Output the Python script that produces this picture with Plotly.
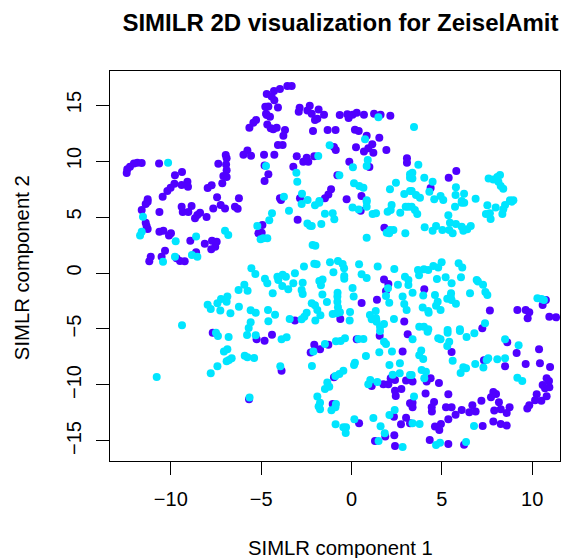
import plotly.graph_objects as go

purple_x = [-12.44,-12.41,-12.26,-12.04,-11.85,-11.61,-10.65,-9.38,-9.77,-9.08,-9.05,-9.40,-9.80,-10.01,-10.19,-10.45,-11.28,-7.96,-7.74,-7.15,-7.44,-6.23,-7.37,-6.96,-6.91,-6.94,-6.91,-7.09,-6.91,-5.98,-5.76,-5.56,-5.65,-5.43,-5.28,
-3.55,-3.31,-3.96,-4.29,-4.69,-4.42,-4.27,-4.60,-4.77,-4.07,-4.73,-4.51,-4.69,-4.66,-4.47,-4.14,-4.33,-3.68,-3.77,-4.07,-3.81,-4.84,-4.27,-2.87,-2.92,-2.31,-2.44,-2.20,-1.82,-1.52,-1.89,-2.02,-0.65,-0.23,-0.16,0.06,0.29,0.69,1.25,1.61,2.15,-2.13,-1.32,-0.88,0.19,0.40,0.84,1.54,1.15,0.25,0.93,0.69,1.21,1.93,-0.87,-0.97,-3.03,-2.48,-2.67,-2.39,-2.06,-0.12,0.99,3.07,3.07,-3.22,-4.60,-4.81,-0.78,-1.13,-1.28,-1.47,-0.27,0.55,-2.85,-3.96,-4.81,
5.80,5.38,4.38,
-11.28,-11.39,-11.61,-10.63,-9.40,-9.34,-9.03,-8.85,-8.66,-8.53,-8.38,-8.02,-7.65,-7.24,-7.00,-6.45,-6.30,-11.39,-11.34,-11.28,-10.63,-10.41,-9.99,-10.10,-8.92,-8.12,-7.72,-7.46,-7.54,-7.76,-10.32,-11.11,-11.19,-10.51,-9.68,-9.49,-9.23,-8.60,-5.15,
-2.98,-4.93,-4.97,-3.90,0.51,1.82,1.80,2.04,1.91,0.56,1.41,-0.62,-3.13,2.92,
4.03,7.66,10.76,10.58,9.18,9.64,9.84,9.75,10.95,11.32,7.24,
-7.68,-5.25,-5.67,
-4.40,-4.81,-2.06,-1.28,-1.74,-2.26,0.29,-3.87,-0.97,1.56,3.11,2.83,1.12,1.76,2.04,2.17,2.41,3.02,2.41,2.76,2.45,3.24,-1.04,0.42,2.35,3.02,2.74,3.24,2.37,1.87,1.30,2.41,
8.62,10.38,9.14,5.54,7.33,8.50,9.64,10.43,10.99,4.38,4.16,4.84,3.38,10.80,10.93,10.58,10.71,10.95,10.25,10.80,10.16,10.51,9.84,9.73,4.10,5.36,7.85,8.00,7.72,8.16,8.75,8.59,8.26,7.90,7.19,6.69,6.87,6.52,6.10,5.76,5.54,5.23,4.57,4.44,4.45,3.38,3.38,5.36,4.95,4.62,4.86,7.85,8.26,8.59,7.26,4.33,5.36,6.23]
purple_y = [8.93,9.26,9.49,9.79,9.85,9.82,9.79,9.02,8.72,8.16,7.71,7.86,7.98,7.62,7.32,6.82,6.58,7.59,7.83,8.01,6.76,6.67,9.76,10.54,10.24,9.70,9.17,8.66,8.57,10.57,10.95,10.48,12.98,13.42,13.66,
16.70,16.70,16.43,16.25,15.98,15.77,15.42,14.88,14.85,14.79,14.23,13.96,14.11,13.27,12.92,12.98,12.83,12.77,12.26,11.43,11.43,10.57,10.57,14.76,14.41,14.94,14.52,14.23,14.61,14.14,13.78,13.66,14.11,14.17,13.84,14.14,14.32,14.14,14.23,14.14,14.05,12.68,12.77,12.77,12.80,12.68,12.26,12.08,11.49,11.22,11.13,10.86,10.75,10.98,10.98,11.25,10.42,10.30,9.94,9.94,10.42,9.94,9.46,10.24,9.85,9.49,8.81,8.21,8.72,7.47,7.02,6.67,6.58,6.88,6.67,6.67,9.61,
9.11,8.51,7.59,
6.37,6.16,5.63,5.45,5.92,5.45,5.45,5.98,4.88,5.18,5.39,5.00,5.77,6.07,5.77,5.92,5.74,4.49,4.20,3.93,3.69,3.78,3.54,3.36,2.89,2.62,2.89,2.80,2.35,2.11,1.99,1.46,1.04,1.46,1.31,1.07,1.04,1.85,3.54,
4.76,4.29,3.60,6.52,5.57,4.05,-0.57,-0.98,-1.61,-2.68,-2.38,-4.11,-4.25,-4.34,
-1.46,-3.36,-2.41,-2.86,-3.30,-3.30,-3.51,-4.05,-3.90,-3.96,-4.94,
-5.33,-5.92,-11.28,
-5.51,-6.04,-6.40,-6.40,-6.82,-7.11,-5.92,-8.72,-9.32,-5.60,-5.48,-7.02,-10.09,-9.94,-9.94,-9.40,-9.55,-9.61,-10.51,-10.36,-10.98,-11.64,-11.70,-13.42,-12.83,-12.92,-13.51,-13.42,-14.49,-14.61,-15.00,-15.45,
-6.19,-6.82,-7.14,-7.05,-7.80,-8.33,-8.12,-8.07,-8.39,-9.40,-9.70,-9.82,-9.70,-9.40,-9.64,-10.00,-10.30,-10.21,-10.83,-11.01,-11.37,-11.40,-11.82,-12.11,-10.77,-10.83,-10.62,-10.80,-11.10,-11.55,-11.99,-12.50,-12.17,-12.29,-11.40,-11.82,-12.38,-12.44,-12.23,-12.65,-11.99,-11.99,-11.52,-11.99,-12.38,-11.58,-11.99,-13.07,-13.48,-13.72,-14.02,-13.27,-13.48,-13.63,-13.66,-14.91,-15.27,-15.33]

cyan_x = [-10.15,1.49,0.75,-1.21,-1.84,0.90,0.84,0.08,-4.73,-3.05,-3.00,-0.67,0.14,0.43,0.66,2.46,2.13,2.92,3.24,3.24,3.24,-2.74,-3.74,-2.43,-1.78,0.84,
3.46,3.70,3.37,3.37,4.03,4.49,4.31,3.33,3.57,3.79,4.58,4.93,5.08,5.78,5.76,6.23,6.87,6.10,7.59,7.85,8.07,8.22,8.13,8.26,8.40,8.77,8.96,
-11.54,-11.61,-11.70,-9.73,-8.60,-7.00,-6.82,-5.21,-9.77,-10.43,-8.83,-8.53,-5.54,-5.32,-5.93,-6.25,-5.75,-7.96,-7.79,-7.42,-7.22,-6.87,-6.91,-7.26,-6.70,-6.23,-5.58,-5.30,-5.58,-5.69,-9.38,
-4.40,-4.55,-3.46,-2.76,-2.02,-1.78,-1.47,-1.04,-0.95,-1.67,-2.44,-2.30,-2.20,-4.88,-4.66,-5.03,0.06,0.40,0.84,0.84,1.17,1.36,2.00,2.17,2.22,2.70,3.00,3.15,0.84,1.95,2.13,2.32,2.09,2.98,-2.15,-2.00,
-2.06,-1.93,-2.63,-3.13,-1.19,-0.75,-0.49,-0.41,-1.00,0.42,1.45,2.37,0.56,0.84,-0.40,-0.40,-4.79,-4.66,-4.10,-4.05,-3.81,-3.63,-3.83,-3.22,-2.70,-3.50,-4.36,-2.76,-2.70,-1.60,-1.78,-1.69,0.06,-1.61,-0.77,-0.78,-0.78,0.12,-1.36,-2.20,-2.02,-1.89,-4.62,-4.23,-4.60,-3.42,-2.76,-2.61,-2.48,-1.72,-2.00,-1.04,-0.82,-0.64,-0.75,-0.08,-0.10,1.34,1.02,1.12,1.36,1.39,1.80,1.58,2.35,3.05,2.09,2.92,2.83,1.91,2.02,2.57,2.96,3.15,3.15,
5.73,6.10,6.24,7.52,7.98,8.50,8.40,8.35,7.66,7.44,7.70,3.33,3.51,3.64,5.36,5.45,5.78,4.05,4.68,4.49,5.03,5.41,5.60,6.10,6.19,6.41,6.60,8.86,
4.99,4.80,4.53,4.25,4.01,3.68,3.74,5.93,6.13,4.73,5.21,5.54,6.06,6.93,7.00,7.28,7.41,7.52,6.56,3.38,3.97,4.62,4.77,4.68,4.93,5.51,5.49,5.30,5.54,5.78,3.94,4.25,4.27,7.39,3.75,4.01,4.25,5.32,6.00,10.29,10.52,10.65,
-7.50,-7.39,-6.80,-5.78,-5.30,-7.06,-6.87,-6.91,-6.78,-6.63,-5.91,-5.76,-5.39,-7.42,-7.79,-10.78,-5.64,
-3.87,-3.59,-1.47,-2.11,-0.86,-0.60,-0.36,0.38,0.66,1.58,1.80,1.91,0.80,1.54,2.24,0.19,0.14,-2.19,-3.94,-0.45,-0.67,-0.89,2.10,2.68,2.28,2.67,1.04,0.93,1.43,-1.34,-1.23,-1.47,-1.89,-1.74,-1.82,-1.74,-0.86,-0.89,-1.11,0.16,1.21,2.10,2.39,-0.88,-0.45,-0.30,-0.32,1.61,1.84,1.50,2.83,3.24,
8.50,9.25,8.50,8.07,7.57,7.48,7.30,6.85,6.34,6.19,6.04,5.60,3.86,3.75,3.97,5.41,5.30,4.80,4.93,5.32,6.00,6.37,6.80,4.21,3.38,3.88,4.12,4.03,3.33,9.18,9.45,3.46,3.38,3.77,6.78,6.34,4.90,4.68]
cyan_y = [9.85,13.90,11.94,11.40,10.45,10.09,9.55,9.44,9.55,8.96,8.16,8.72,8.01,7.77,7.62,8.07,7.47,7.05,8.81,8.51,7.32,7.08,6.82,6.52,6.43,6.49,
13.04,9.67,8.96,8.45,8.51,8.16,7.26,7.32,6.97,6.73,6.58,6.88,6.52,7.65,6.97,7.08,6.64,6.43,8.45,8.36,8.57,8.75,8.16,7.77,7.53,6.49,6.49,
5.03,3.69,3.36,2.83,3.27,3.78,3.39,4.20,1.46,1.01,1.61,1.46,0.42,-0.09,-1.04,-1.52,-1.58,-2.83,-3.21,-2.71,-2.32,-2.11,-2.56,-3.36,-3.60,-3.01,-3.33,-3.54,-4.40,-4.91,-4.67,
5.33,4.70,5.57,6.16,6.04,6.28,5.30,5.33,4.79,4.38,4.43,4.23,4.20,3.10,3.10,3.01,5.86,5.68,6.37,5.92,5.27,5.33,5.48,5.63,6.07,5.39,5.92,5.92,3.15,3.60,3.84,3.84,3.54,3.54,2.50,2.44,
0.83,0.78,0.57,-0.03,0.95,1.07,0.80,0.42,0.06,0.78,0.57,0.36,-0.12,-0.45,-0.27,-0.51,-0.51,-0.92,-0.33,-0.62,-0.15,-0.33,-1.16,-0.92,-0.86,-1.46,-1.81,-1.52,-1.87,-0.57,-0.71,-1.10,-1.34,-1.93,-1.76,-2.11,-2.56,-2.11,-2.59,-2.71,-2.89,-3.30,-3.30,-3.72,-4.31,-4.11,-4.14,-3.90,-3.54,-3.78,-4.25,-3.66,-3.60,-3.51,-3.06,-3.48,-4.25,-3.39,-3.75,-4.14,-4.05,-4.35,-4.55,-4.79,-4.11,-3.30,-2.65,-2.77,-2.11,-2.05,-1.37,-1.04,-0.33,-0.62,-1.07,
5.92,6.28,6.28,6.04,5.86,6.07,5.69,5.27,5.33,5.27,4.82,5.92,5.63,5.27,5.15,4.49,4.38,4.08,4.20,3.78,3.84,3.84,3.54,4.14,3.78,3.90,4.20,6.37,
0.95,0.48,0.63,0.27,0.33,0.27,-0.21,0.86,0.48,-0.54,-0.39,-0.92,-0.39,-0.62,-0.77,-1.04,-1.70,-1.96,-1.81,-1.76,-2.02,-1.96,-2.56,-2.92,-3.30,-1.81,-2.11,-2.29,-2.41,-2.74,-3.09,-3.39,-3.54,-4.49,-4.79,-4.79,-5.03,-5.09,-5.03,-2.26,-2.32,-2.41,
-5.33,-5.62,-5.71,-5.54,-5.56,-7.02,-6.82,-7.89,-7.77,-7.62,-7.38,-7.53,-7.59,-8.33,-8.96,-9.29,-11.13,
-5.92,-5.74,-6.34,-7.02,-6.10,-6.07,-5.83,-5.89,-5.89,-5.18,-6.13,-6.34,-7.41,-7.08,-7.02,-8.01,-8.21,-8.30,-8.33,-8.72,-9.02,-9.20,-8.21,-8.07,-9.08,-8.96,-9.55,-9.94,-9.73,-9.79,-10.15,-10.36,-11.04,-11.58,-11.93,-12.17,-11.70,-11.99,-12.26,-13.07,-12.95,-12.68,-12.23,-13.51,-13.78,-13.78,-14.29,-13.69,-14.31,-15.00,-15.54,-9.11,
-5.92,-6.46,-7.62,-7.71,-7.62,-7.77,-8.45,-8.12,-8.51,-8.42,-8.93,-7.83,-6.93,-7.35,-7.68,-6.13,-6.52,-5.83,-5.92,-5.33,-5.18,-5.71,-5.39,-5.24,-5.92,-8.66,-8.81,-9.40,-9.11,-9.35,-9.64,-11.04,-13.42,-13.48,-13.66,-15.09,-15.15,-15.36]

x_ticks = [-10, -5, 0, 5, 10]
y_ticks = [-15, -10, -5, 0, 5, 10, 15]
title = "SIMILR 2D visualization for ZeiselAmit"
x_label = "SIMLR component 1"
y_label = "SIMLR component 2"

FONT = "Liberation Sans, Arial, sans-serif"
fig = go.Figure()
fig.add_trace(go.Scatter(x=purple_x, y=purple_y, mode="markers",
                         marker=dict(color="#5000FF", size=8, line=dict(width=0))))
fig.add_trace(go.Scatter(x=cyan_x, y=cyan_y, mode="markers",
                         marker=dict(color="#00E5FF", size=8, line=dict(width=0))))
axis = dict(showline=True, mirror=True, linecolor="black", linewidth=1, showgrid=False,
            zeroline=False, ticks="outside", ticklen=13, tickwidth=1, tickcolor="black",
            tickfont=dict(family=FONT, size=20, color="black"))
label_font = dict(family=FONT, size=20.3, color="black")
fig.update_layout(
    width=563, height=550, autosize=False, showlegend=False,
    margin=dict(l=102, r=11, t=63, b=97, pad=0),
    paper_bgcolor="white", plot_bgcolor="white",
    xaxis=dict(axis, range=[-13.365, 11.54], tickvals=x_ticks, ticklabelstandoff=7),
    yaxis=dict(axis, range=[-16.79, 18.04], tickvals=y_ticks, tickangle=-90, ticklabelstandoff=7),
    title=dict(text="<b>%s</b>" % title, font=dict(family=FONT, size=24, color="black"),
               x=0.5905, xanchor="center", y=0.973, yanchor="middle"),
    annotations=[
        dict(text=x_label, xref="paper", yref="paper", x=0.512, y=-0.223, showarrow=False,
             xanchor="center", yanchor="middle", font=label_font),
        dict(text=y_label, xref="paper", yref="paper", x=-0.1956, y=0.497, showarrow=False,
             xanchor="center", yanchor="middle", textangle=-90, font=label_font),
    ],
)
fig.write_html("out.html")
